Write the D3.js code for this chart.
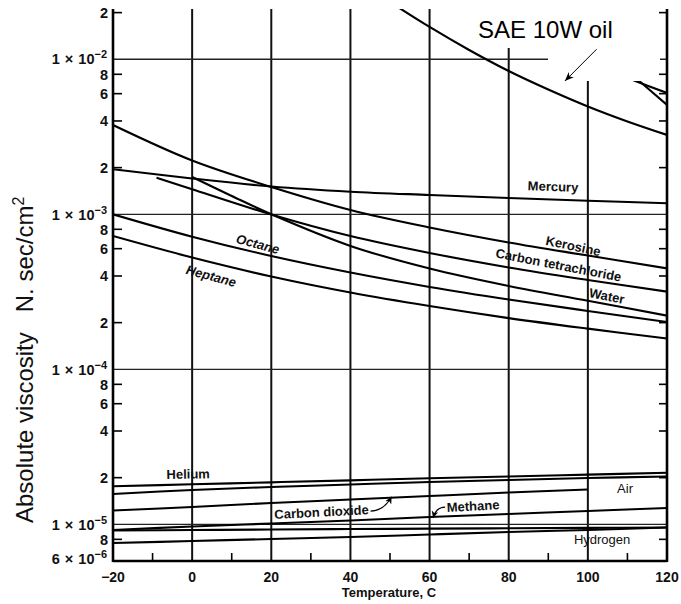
<!DOCTYPE html>
<html><head><meta charset="utf-8">
<script src="https://cdn.jsdelivr.net/npm/d3@7"></script>
<style>body{margin:0;background:#fff;} svg{display:block;font-family:"Liberation Sans",Arial,sans-serif;}</style>
</head><body><svg id="chart" width="681" height="604"></svg>
<script>
// ---------- data ----------
const temps = [-20, 0, 20, 40, 60, 80, 100, 120];
const mercury  = [1.951e-3, 1.702e-3, 1.511e-3, 1.399e-3, 1.332e-3, 1.274e-3, 1.224e-3, 1.178e-3];
const kerosine = [3.768e-3, 2.224e-3, 1.500e-3, 1.066e-3, 8.22e-4, 6.58e-4, 5.42e-4, 4.48e-4];
const ccl4Temps = [-9, 0, 20, 40, 60, 80, 100, 120];
const ccl4     = [1.722e-3, 1.450e-3, 9.97e-4, 7.24e-4, 5.63e-4, 4.54e-4, 3.77e-4, 3.17e-4];
const waterTemps = [0, 10, 20, 40, 60, 80, 100, 120];
const water    = [1.740e-3, 1.313e-3, 1.000e-3, 6.25e-4, 4.47e-4, 3.45e-4, 2.77e-4, 2.22e-4];
const octane   = [1.000e-3, 7.17e-4, 5.38e-4, 4.21e-4, 3.40e-4, 2.82e-4, 2.38e-4, 2.02e-4];
const heptane  = [7.24e-4, 5.26e-4, 3.97e-4, 3.13e-4, 2.56e-4, 2.14e-4, 1.83e-4, 1.58e-4];
const oilTemps = [50, 60, 70, 80, 90, 100, 110, 120];
const sae10w   = [2.34e-2, 1.616e-2, 1.148e-2, 8.40e-3, 6.38e-3, 4.96e-3, 3.97e-3, 3.25e-3];
const oilBTemps = [104, 112, 120];
const oilB     = [8.66e-3, 7.24e-3, 6.06e-3];
const oilCTemps = [104, 113, 120];
const oilC     = [1.146e-2, 7.24e-3, 5.07e-3];
const helium   = [1.759e-5, 1.812e-5, 1.866e-5, 1.922e-5, 1.981e-5, 2.034e-5, 2.092e-5, 2.152e-5];
const air      = [1.569e-5, 1.665e-5, 1.740e-5, 1.806e-5, 1.875e-5, 1.931e-5, 1.990e-5, 2.034e-5];
const co2Temps = [-20, 0, 20, 40, 60, 80, 100];
const co2      = [1.227e-5, 1.293e-5, 1.372e-5, 1.445e-5, 1.522e-5, 1.604e-5, 1.677e-5];
const methane  = [9.19e-6, 9.68e-6, 1.012e-5, 1.058e-5, 1.115e-5, 1.166e-5, 1.218e-5, 1.274e-5];
const unlabeledGas = [9.12e-6, 9.19e-6, 9.26e-6, 9.32e-6, 9.38e-6, 9.43e-6, 9.48e-6, 9.54e-6];
const hydrogen = [7.57e-6, 7.80e-6, 8.04e-6, 8.28e-6, 8.60e-6, 8.92e-6, 9.19e-6, 9.54e-6];

const xTickValues = [-20, 0, 20, 40, 60, 80, 100, 120];
const xTickLabels = ["\u221220", "0", "20", "40", "60", "80", "100", "120"];
const xGridValues = [0, 20, 40, 60, 80, 100];
const xMinorTicks = [-10, 10, 30, 50, 70, 90, 110];
const yDecades = [1e-2, 1e-3, 1e-4, 1e-5];
const yDecadeExp = ["\u22122", "\u22123", "\u22124", "\u22125"];
const yMinorTicks = [2e-2, 8e-3, 6e-3, 4e-3, 2e-3, 8e-4, 6e-4, 4e-4, 2e-4, 8e-5, 6e-5, 4e-5, 2e-5, 8e-6];
const yMinorLabels = ["2", "8", "6", "4", "2", "8", "6", "4", "2", "8", "6", "4", "2", "8"];
const yBottomTick = 6e-6;

const series = [
  {name: "SAE 10W oil", t: oilTemps, v: sae10w},
  {name: "oil B", t: oilBTemps, v: oilB},
  {name: "oil C", t: oilCTemps, v: oilC},
  {name: "Mercury", t: temps, v: mercury},
  {name: "Kerosine", t: temps, v: kerosine},
  {name: "Carbon tetrachloride", t: ccl4Temps, v: ccl4},
  {name: "Water", t: waterTemps, v: water},
  {name: "Octane", t: temps, v: octane},
  {name: "Heptane", t: temps, v: heptane},
  {name: "Helium", t: temps, v: helium},
  {name: "Air", t: temps, v: air},
  {name: "Carbon dioxide", t: co2Temps, v: co2},
  {name: "Methane", t: temps, v: methane},
  {name: "gas", t: temps, v: unlabeledGas},
  {name: "Hydrogen", t: temps, v: hydrogen}
];

// ---------- layout ----------
const W = 681, H = 604;
const pL = 113, pR = 667, pT = 9, pB = 561;
const x = d3.scaleLinear().domain([-20, 120]).range([pL, pR]);
const y = d3.scaleLog().domain([5.8e-6, 2.11e-2]).range([pB, pT]);

const svg = d3.select("#chart");
svg.append("rect").attr("width", W).attr("height", H).attr("fill", "#fff");
const defs = svg.append("defs");
defs.append("clipPath").attr("id", "plot").append("rect")
  .attr("x", pL).attr("y", pT).attr("width", pR - pL).attr("height", pB - pT);
defs.append("marker").attr("id", "arrow").attr("viewBox", "0 0 10 10")
  .attr("refX", 10).attr("refY", 5).attr("markerWidth", 9).attr("markerHeight", 9)
  .attr("markerUnits", "userSpaceOnUse").attr("orient", "auto")
  .append("path").attr("d", "M0,1 L10,5 L0,9 L3,5 z").attr("fill", "#000");
defs.append("marker").attr("id", "arrowSmall").attr("viewBox", "0 0 10 10")
  .attr("refX", 10).attr("refY", 5).attr("markerWidth", 7).attr("markerHeight", 7)
  .attr("markerUnits", "userSpaceOnUse").attr("orient", "auto")
  .append("path").attr("d", "M0,0 L10,5 L0,10 L3,5 z").attr("fill", "#000");

// grid
const grid = svg.append("g");
grid.selectAll("line.v").data(xGridValues).join("line")
  .attr("x1", d => x(d)).attr("x2", d => x(d)).attr("y1", pT).attr("y2", pB)
  .attr("stroke", "#111").attr("stroke-width", 2);
grid.selectAll("line.h").data(yDecades).join("line")
  .attr("x1", pL).attr("x2", pR).attr("y1", d => y(d)).attr("y2", d => y(d))
  .attr("stroke", "#222").attr("stroke-width", 1.3);

// curves
const line = d3.line().x(d => x(d[0])).y(d => y(d[1])).curve(d3.curveCatmullRom.alpha(0.5));
svg.append("g").attr("clip-path", "url(#plot)")
  .selectAll("path").data(series).join("path")
  .attr("d", s => line(s.t.map((t, i) => [t, s.v[i]])))
  .attr("fill", "none").attr("stroke", "#000").attr("stroke-width", 2.1)
  .attr("stroke-linejoin", "round");

// white patches behind the oil annotation (as in the reference)
svg.append("rect").attr("x", 495).attr("y", 0).attr("width", 165).attr("height", 48).attr("fill", "#fff");
svg.append("rect").attr("x", 548).attr("y", 0).attr("width", 112).attr("height", 81).attr("fill", "#fff");

// axes
const ax = svg.append("g").attr("stroke", "#000");
ax.append("line").attr("x1", pL).attr("x2", pL).attr("y1", pT).attr("y2", pB + 1).attr("stroke-width", 2.6);
ax.append("line").attr("x1", pR).attr("x2", pR).attr("y1", pT).attr("y2", pB + 1).attr("stroke-width", 2.6);
ax.append("line").attr("x1", pL).attr("x2", pR).attr("y1", pB).attr("y2", pB).attr("stroke-width", 2.6);
ax.selectAll("line.lt").data(yMinorTicks).join("line")
  .attr("x1", pL).attr("x2", pL + 9).attr("y1", d => y(d)).attr("y2", d => y(d)).attr("stroke-width", 1.6);
ax.selectAll("line.rt").data(yMinorTicks).join("line")
  .attr("x1", pR - 8).attr("x2", pR).attr("y1", d => y(d)).attr("y2", d => y(d)).attr("stroke-width", 1.6);
ax.selectAll("line.bt").data(xMinorTicks).join("line")
  .attr("x1", d => x(d)).attr("x2", d => x(d)).attr("y1", pB).attr("y2", pB - 8).attr("stroke-width", 1.6);

// tick labels
const tl = svg.append("g").attr("font-size", 14.5).attr("font-weight", "bold").attr("fill", "#111");
tl.selectAll("text.minor").data(yMinorTicks).join("text")
  .attr("x", 108).attr("y", d => y(d)).attr("dy", "0.36em").attr("text-anchor", "end")
  .text((d, i) => yMinorLabels[i]);
const dec = tl.selectAll("text.dec").data(yDecades).join("text")
  .attr("x", 107).attr("y", d => y(d)).attr("dy", "0.36em").attr("text-anchor", "end")
  .attr("word-spacing", "1px")
  .text("1 \u00d7 10");
dec.append("tspan").attr("dy", -6).attr("font-size", 11).text((d, i) => yDecadeExp[i]);
const bt = tl.append("text").attr("x", 107).attr("y", y(yBottomTick)).attr("dy", "0.36em")
  .attr("text-anchor", "end").attr("word-spacing", "1px").text("6 \u00d7 10");
bt.append("tspan").attr("dy", -6).attr("font-size", 11).text("\u22126");
tl.selectAll("text.x").data(xTickValues).join("text")
  .attr("x", d => x(d)).attr("y", 582).attr("text-anchor", "middle").attr("font-size", 14)
  .text((d, i) => xTickLabels[i]);
tl.append("text").attr("x", 389).attr("y", 597).attr("text-anchor", "middle").attr("font-size", 13)
  .text("Temperature, C");

// crop at top (reference image is cut through the top label)
svg.append("rect").attr("x", 0).attr("y", 0).attr("width", 112).attr("height", 6).attr("fill", "#fff");

// y axis title
const yt = svg.append("text").attr("transform", "translate(33,523) rotate(-90)")
  .attr("font-size", 24).attr("fill", "#111").text("Absolute viscosity");
yt.append("tspan").attr("dx", 20).text("N. sec/cm");
yt.append("tspan").attr("dy", -9).attr("font-size", 16).text("2");

// curve labels (anchored in data coordinates)
const curveLabels = [
  {text: "Mercury", t: 91.2, v: 1.511e-3, a: 2, w: "bold", s: "normal"},
  {text: "Kerosine", t: 96.3, v: 6.245e-4, a: 12, w: "bold", s: "normal"},
  {text: "Carbon tetrachloride", t: 92.6, v: 4.709e-4, a: 11, w: "bold", s: "normal"},
  {text: "Water", t: 104.8, v: 2.971e-4, a: 11, w: "bold", s: "normal"},
  {text: "Octane", t: 16.6, v: 6.43e-4, a: 15, w: "bold", s: "italic"},
  {text: "Heptane", t: 4.8, v: 4.0e-4, a: 15, w: "bold", s: "italic"},
  {text: "Helium", t: -1.0, v: 2.111e-5, a: -1, w: "bold", s: "normal"},
  {text: "Air", t: 109.4, v: 1.714e-5, a: 0, w: "normal", s: "normal"},
  {text: "Carbon dioxide", t: 32.7, v: 1.2004e-5, a: -3, w: "bold", s: "normal"},
  {text: "Methane", t: 71.0, v: 1.312e-5, a: -3, w: "bold", s: "normal"},
  {text: "Hydrogen", t: 103.6, v: 7.976e-6, a: 0, w: "normal", s: "normal"}
];
svg.append("g").attr("font-size", 13).attr("fill", "#111")
  .selectAll("text").data(curveLabels).join("text")
  .attr("transform", d => `translate(${x(d.t)},${y(d.v)}) rotate(${d.a})`)
  .attr("text-anchor", "middle").attr("dy", "0.35em")
  .attr("font-weight", d => d.w).attr("font-style", d => d.s)
  .text(d => d.text);

// small curved arrows to CO2 and methane
function interpLog(ts, vs, t) {
  const i = d3.bisectRight(ts, t) - 1;
  const f = (t - ts[i]) / (ts[i + 1] - ts[i]);
  return Math.pow(10, Math.log10(vs[i]) + f * (Math.log10(vs[i + 1]) - Math.log10(vs[i])));
}
const co2Tip = [x(50.4), y(interpLog(co2Temps, co2, 50.4)) - 1];
const co2Start = [x(32.7) + 49, y(1.2004e-5) - 1];
svg.append("path")
  .attr("d", `M${co2Start[0]},${co2Start[1]} Q${co2Tip[0] - 8},${co2Start[1]} ${co2Tip[0]},${co2Tip[1]}`)
  .attr("fill", "none").attr("stroke", "#000").attr("stroke-width", 1.2).attr("marker-end", "url(#arrowSmall)");
const mTip = [x(60.9), y(interpLog(temps, methane, 60.9)) + 1];
const mStart = [x(71.0) - 28, y(1.312e-5) + 1];
svg.append("path")
  .attr("d", `M${mStart[0]},${mStart[1]} Q${mTip[0] + 3},${mStart[1]} ${mTip[0]},${mTip[1]}`)
  .attr("fill", "none").attr("stroke", "#000").attr("stroke-width", 1.2).attr("marker-end", "url(#arrowSmall)");

// SAE 10W oil annotation
svg.append("text").attr("x", x(72.24)).attr("y", y(1.372e-2)).attr("font-size", 24).attr("fill", "#000")
  .text("SAE 10W oil");
svg.append("line").attr("x1", x(102.2)).attr("y1", y(1.16e-2)).attr("x2", x(94.2)).attr("y2", y(7.24e-3))
  .attr("stroke", "#000").attr("stroke-width", 1).attr("marker-end", "url(#arrow)");
</script></body></html>
